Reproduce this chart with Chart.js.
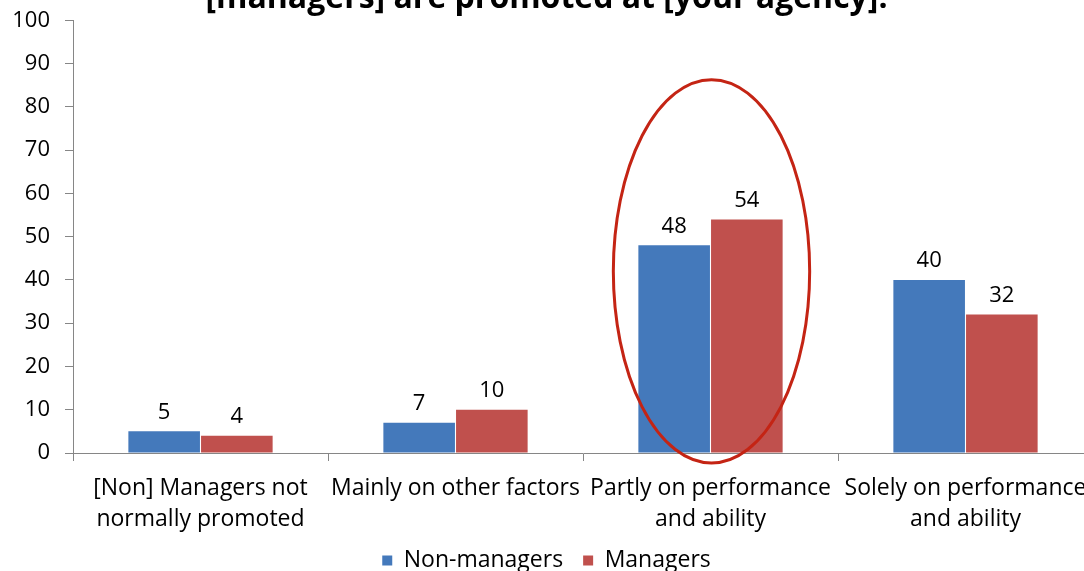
<!DOCTYPE html>
<html>
<head>
<meta charset="utf-8">
<script src="https://cdn.jsdelivr.net/npm/chart.js@4"></script>
<style>
  html, body { margin: 0; padding: 0; background: #fff; }
  #wrap { position: relative; width: 1084px; height: 571px; overflow: hidden; }
  #myChart { position: absolute; left: 0; top: -40px; }
</style>
</head>
<body>
<div id="wrap"><canvas id="myChart" width="1100" height="637"></canvas></div>
<script>
    var categories = [
        ['[Non] Managers not', 'normally promoted'],
        'Mainly on other factors',
        ['Partly on performance', 'and ability'],
        ['Solely on performance', 'and ability']
    ];
    var nonManagers = [5, 7, 48, 40];
    var managers = [4, 10, 54, 32];
    var yTicks = [0, 10, 20, 30, 40, 50, 60, 70, 80, 90, 100];
    // circled group: category index, centre value and half height in data units
    var highlight = { index: 2, yCenter: 42, yHalf: 44.3, widthFrac: 0.77 };

    var font = 'Open Sans';

    var valueLabels = {
        id: 'valueLabels',
        afterDatasetsDraw: function (chart) {
            var ctx = chart.ctx;
            ctx.save();
            ctx.font = '22px "' + font + '"';
            ctx.fillStyle = '#000';
            ctx.textAlign = 'center';
            ctx.textBaseline = 'bottom';
            chart.data.datasets.forEach(function (ds, i) {
                chart.getDatasetMeta(i).data.forEach(function (bar, j) {
                    ctx.fillText(ds.data[j], bar.x, bar.y - 8);
                });
            });
            ctx.restore();
        }
    };

    var ellipse = {
        id: 'ellipse',
        afterDatasetsDraw: function (chart) {
            var x = chart.scales.x, y = chart.scales.y;
            var cx = x.getPixelForValue(highlight.index) + 1;
            var cy = y.getPixelForValue(highlight.yCenter);
            var ry = Math.abs(y.getPixelForValue(highlight.yCenter + highlight.yHalf) - cy);
            var step = x.getPixelForValue(1) - x.getPixelForValue(0);
            var rx = step * highlight.widthFrac / 2;
            var ctx = chart.ctx;
            ctx.save();
            ctx.strokeStyle = '#c42414';
            ctx.lineWidth = 3;
            ctx.beginPath();
            ctx.ellipse(cx, cy, rx, ry, 0, 0, Math.PI * 2);
            ctx.stroke();
            ctx.restore();
        }
    };

    // let the two-line category labels overlap the legend box instead of being clipped
    var labelRoom = {
        id: 'labelRoom',
        afterLayout: function (chart) { chart.scales.x.bottom += 14; }
    };

    var ctx = document.getElementById('myChart').getContext('2d');
    var myChart = new Chart(ctx, {
        type: 'bar',
        data: {
            labels: categories,
            datasets: [{
                label: 'Non-managers',
                data: nonManagers,
                backgroundColor: '#4479bb',
                categoryPercentage: 0.57,
                barPercentage: 0.985
            }, {
                label: 'Managers',
                data: managers,
                backgroundColor: '#c0504d',
                categoryPercentage: 0.57,
                barPercentage: 0.985
            }]
        },
        options: {
            responsive: false,
            animation: false,
            layout: { padding: { left: 0, right: 7, top: 0, bottom: 15 } },
            scales: {
                x: {
                    grid: { display: true, drawOnChartArea: false, tickLength: 8, color: '#868686' },
                    border: { color: '#868686' },
                    ticks: { color: '#000', padding: 12, font: { family: font, size: 23, lineHeight: 1.35 } },
                    afterFit: function (s) { s.height = 76; }
                },
                y: {
                    min: 0,
                    max: 100,
                    afterBuildTicks: function (s) { s.ticks = yTicks.map(function (v) { return { value: v }; }); },
                    grid: { display: true, drawOnChartArea: false, tickLength: 8, color: '#868686' },
                    border: { color: '#868686' },
                    ticks: { color: '#000', padding: 15, font: { family: font, size: 22 } },
                    afterFit: function (s) { s.width = 73; }
                }
            },
            plugins: {
                title: {
                    display: true,
                    text: '[managers] are promoted at [your agency].',
                    color: '#000',
                    font: { family: font, size: 32, weight: 'bold' },
                    padding: { top: 20, bottom: 2 }
                },
                legend: {
                    position: 'bottom',
                    labels: { color: '#000', boxWidth: 10, boxHeight: 10, padding: 20, font: { family: font, size: 23 } }
                },
                tooltip: { enabled: false }
            }
        },
        plugins: [valueLabels, ellipse, labelRoom]
    });
</script>
</body>
</html>
